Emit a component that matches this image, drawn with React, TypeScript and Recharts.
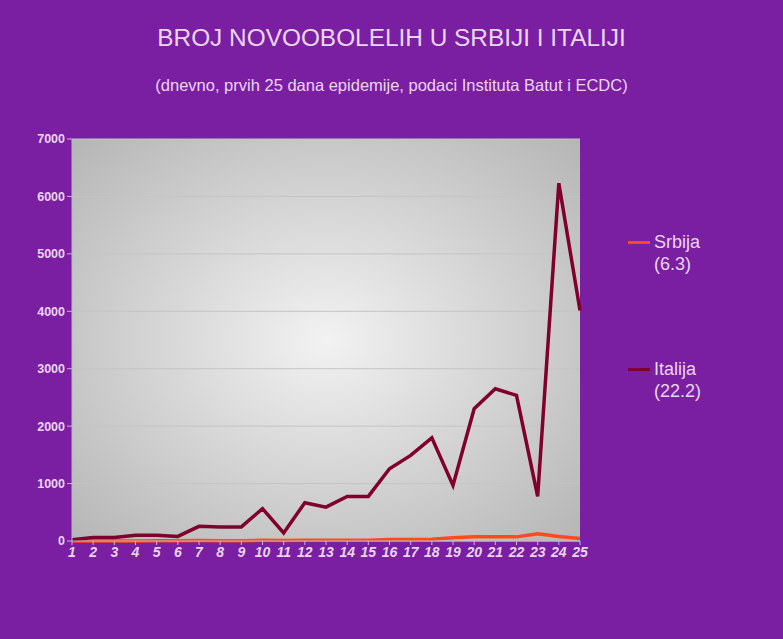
import React from 'react';
import { LineChart, Line, XAxis, YAxis, CartesianGrid } from 'recharts';

const days = ['1','2','3','4','5','6','7','8','9','10','11','12','13','14','15','16','17','18','19','20','21','22','23','24','25'];
const srbija = [1, 0, 0, 0, 4, 6, 7, 5, 5, 11, 9, 12, 14, 13, 15, 24, 26, 30, 55, 72, 74, 72, 127, 80, 42];
const italija = [20, 62, 62, 100, 100, 80, 255, 245, 245, 563, 140, 667, 590, 777, 777, 1258, 1490, 1797, 968, 2303, 2651, 2535, 777, 6230, 4014];
const yTicks = [0, 1000, 2000, 3000, 4000, 5000, 6000, 7000];
const seriesNames = ['Srbija', 'Italija'];
const seriesNotes = ['(6.3)', '(22.2)'];
const seriesColors = ['#ff4a1c', '#80002c'];

const data = days.map((d, i) => ({ day: d, srbija: srbija[i], italija: italija[i] }));

const TEXT = '#ead6f2';
const BG = '#7b1fa2';

const LegendBlock = () => (
  <div style={{ position: 'absolute', left: 628, top: 231, width: 150, fontFamily: '"Liberation Sans", Arial, sans-serif', color: TEXT, fontSize: 18 }}>
    {seriesNames.map((n, i) => (
      <div key={i} style={{ position: 'relative', height: i === 0 ? 127 : 60, paddingLeft: 26 }}>
        <div style={{ position: 'absolute', left: 0, top: 10, width: 22, height: 3, background: seriesColors[i] }} />
        <div style={{ lineHeight: '22px' }}>{n}</div>
        <div style={{ lineHeight: '22px' }}>{seriesNotes[i]}</div>
      </div>
    ))}
  </div>
);

export default function App() {
  return (
    <div style={{ position: 'absolute', left: 0, top: 0, width: 783, height: 639, background: BG, fontFamily: '"Liberation Sans", Arial, sans-serif' }}>
      <div style={{ position: 'absolute', left: 0, top: 24, width: 783, textAlign: 'center', color: TEXT, fontSize: 24.4 }}>
        BROJ NOVOOBOLELIH U SRBIJI I ITALIJI
      </div>
      <div style={{ position: 'absolute', left: 0, top: 76, width: 783, textAlign: 'center', color: TEXT, fontSize: 16.5 }}>
        (dnevno, prvih 25 dana epidemije, podaci Instituta Batut i ECDC)
      </div>
      <div style={{ position: 'absolute', left: 0, top: 0 }}>
        <LineChart width={783} height={639} data={data} margin={{ top: 139, right: 203, bottom: 68, left: 0 }}>
          <defs>
            <radialGradient id="plotBg" cx="0.5" cy="0.5" r="0.72">
              <stop offset="0%" stopColor="#f2f2f2" />
              <stop offset="100%" stopColor="#b4b4b4" />
            </radialGradient>
          </defs>
          <CartesianGrid vertical={false} stroke="#c4c4c4" fill="url(#plotBg)" fillOpacity={1} />
          <XAxis
            dataKey="day"
            height={30}
            interval={0}
            axisLine={{ stroke: '#b8b8b8' }}
            tickLine={{ stroke: '#c9b3d6' }}
            tickSize={4}
            tick={{ fill: TEXT, fontSize: 14, fontStyle: 'italic', fontWeight: 'bold' }}
          />
          <YAxis
            width={72}
            domain={[0, 7000]}
            ticks={yTicks}
            axisLine={{ stroke: '#b8b8b8' }}
            tickLine={{ stroke: '#c9b3d6' }}
            tickSize={5}
            tick={{ fill: TEXT, fontSize: 12.5, fontWeight: 'bold' }}
          />
          <Line type="linear" dataKey="srbija" name="Srbija" stroke={seriesColors[0]} strokeWidth={3.5} dot={false} isAnimationActive={false} />
          <Line type="linear" dataKey="italija" name="Italija" stroke={seriesColors[1]} strokeWidth={3.5} dot={false} isAnimationActive={false} />
        </LineChart>
      </div>
      <LegendBlock />
    </div>
  );
}
